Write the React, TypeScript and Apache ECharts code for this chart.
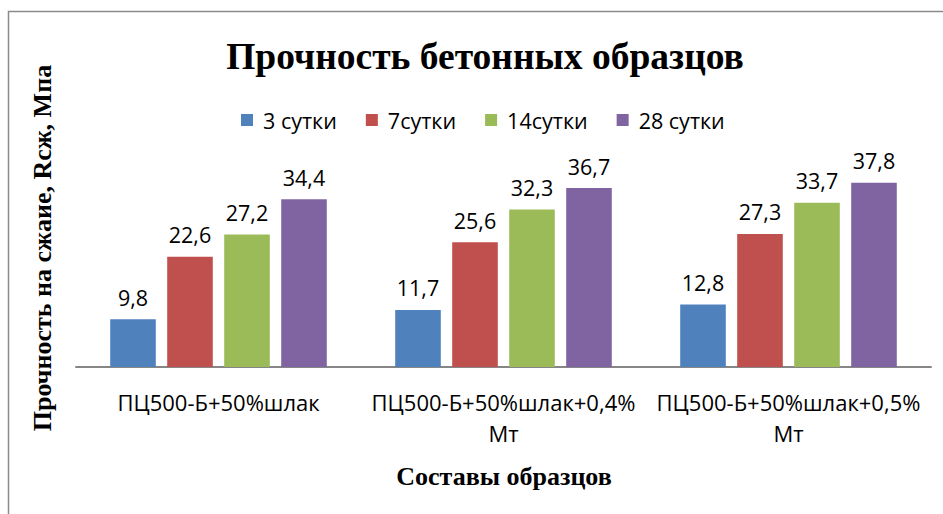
import React, { useEffect, useRef } from "react";
import * as echarts from "echarts";

const categories = [
  "ПЦ500-Б+50%шлак",
  "ПЦ500-Б+50%шлак+0,4%\nМт",
  "ПЦ500-Б+50%шлак+0,5%\nМт",
];
const seriesNames = ["3 сутки", "7сутки", "14сутки", "28 сутки"];
const day3 = [9.8, 11.7, 12.8];
const day7 = [22.6, 25.6, 27.3];
const day14 = [27.2, 32.3, 33.7];
const day28 = [34.4, 36.7, 37.8];
const colors = ["#4F81BD", "#C0504D", "#9BBB59", "#8064A2"];

const chartTitle = "Прочность бетонных образцов";
const yTitle = "Прочность на сжаие, Rcж, Мпа";
const xTitle = "Составы образцов";

export default function App() {
  const ref = useRef<HTMLDivElement>(null);
  useEffect(() => {
    if (!ref.current) return;
    const chart = echarts.init(ref.current, undefined, { renderer: "svg" });
    const labelFont = "'Open Sans', sans-serif";
    const serif = "'Liberation Serif', 'Times New Roman', serif";
    const data = [day3, day7, day14, day28];
    chart.setOption({
      animation: false,
      backgroundColor: "#ffffff",
      title: {
        text: chartTitle,
        left: 480,
        top: 32,
        textAlign: "center",
        textStyle: {
          fontFamily: serif,
          fontWeight: "bold",
          fontSize: 37.5,
          color: "#000",
        },
      },
      legend: {
        top: 104,
        left: 236,
        itemWidth: 12,
        itemHeight: 12,
        itemGap: 29,
        icon: "rect",
        textStyle: { fontFamily: labelFont, fontSize: 21.5, color: "#000", padding: [0, 0, 0, 5] },
        data: seriesNames,
      },
      grid: { left: 76, right: 12, top: 172, bottom: 147 },
      xAxis: {
        type: "category",
        data: categories,
        axisLine: { lineStyle: { color: "#868686", width: 2 } },
        axisTick: { show: false },
        axisLabel: {
          interval: 0,
          margin: 19,
          fontFamily: labelFont,
          fontSize: 22,
          lineHeight: 31,
          color: "#000",
        },
      },
      yAxis: {
        type: "value",
        min: 0,
        max: 40,
        show: false,
      },
      graphic: [
        {
          type: "rect",
          shape: { x: 8.5, y: 11.5, width: 1000, height: 1000 },
          style: { fill: "none", stroke: "#8a8a8a", lineWidth: 1.5 },
          silent: true,
        },
        {
          type: "text",
          x: 42,
          y: 248,
          rotation: Math.PI / 2,
          style: {
            text: yTitle,
            fontFamily: serif,
            fontWeight: "bold",
            fontSize: 26,
            fill: "#000",
            align: "center",
            verticalAlign: "middle",
          },
        },
        {
          type: "text",
          x: 504,
          y: 476,
          style: {
            text: xTitle,
            fontFamily: serif,
            fontWeight: "bold",
            fontSize: 26,
            fill: "#000",
            align: "center",
            verticalAlign: "middle",
          },
        },
      ],
      series: seriesNames.map((name, i) => ({
        name,
        type: "bar",
        data: data[i],
        barGap: "25%",
        barCategoryGap: "24%",
        itemStyle: { color: colors[i] },
        label: {
          show: true,
          position: "top",
          distance: 11,
          fontFamily: labelFont,
          fontSize: 21.5,
          color: "#000",
          formatter: (p: any) => String(p.value).replace(".", ","),
        },
      })),
    });
    return () => chart.dispose();
  }, []);
  return (
    <div
      ref={ref}
      style={{ position: "fixed", left: 0, top: 0, width: 943, height: 514 }}
    />
  );
}
